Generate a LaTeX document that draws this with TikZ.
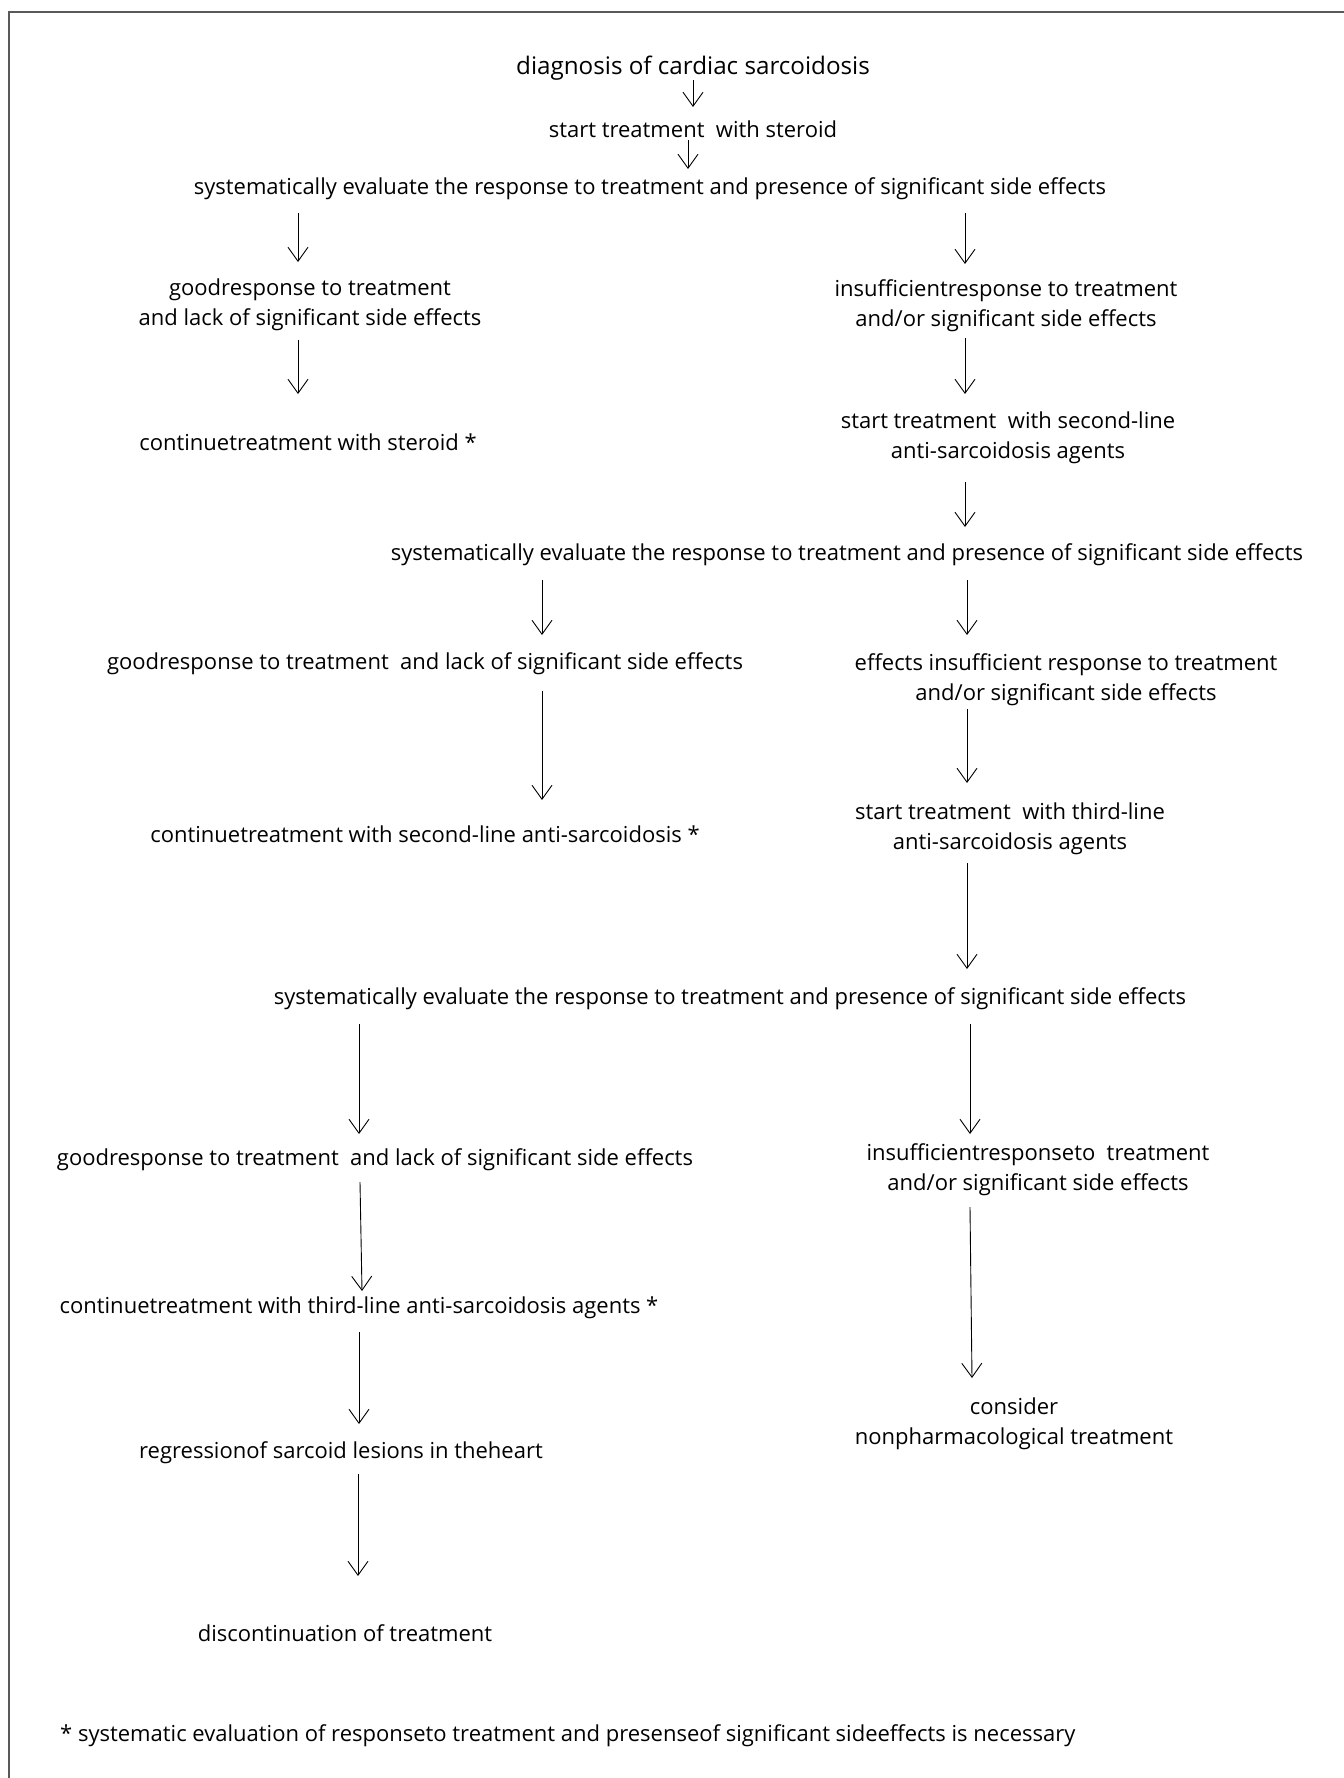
\documentclass[tikz,border=0pt]{standalone}
\usepackage{fontspec}
\setmainfont{Open Sans}
\usetikzlibrary{arrows.meta,calc}

\newcommand{\bodyfs}{\fontsize{22}{30}\selectfont}
\newcommand{\headfs}{\fontsize{24.2}{30}\selectfont}

\begin{document}
\begin{tikzpicture}[x=1pt,y=-1pt,
  txt/.style={font=\bodyfs, inner sep=0pt, align=center, yshift=-3pt},
  arr/.style={line width=0.9pt, -{Straight Barb[length=14pt,width=20pt,line width=0.9pt]}}]
\useasboundingbox (0,0) rectangle (1344,1778);
\draw[gray!70!black, line width=1.6pt] (9,1778) -- (9,12) -- (1344,12);

% top part
\node[txt, font=\headfs] (diag) at (693,65) {diagnosis of cardiac sarcoidosis};
\node[txt] (start) at (693,126) {start treatment\ \ with steroid};
\node[txt] (evalA) at (650,186) {systematically evaluate the response to treatment and presence of significant side effects};
\node[txt] (goodA) at (310,302) {goodresponse to treatment\\and lack of significant side effects};
\node[txt] (badA) at (1006,303) {insufficientresponse to treatment\\and/or significant side effects};
\node[txt] (contA) at (308,439) {continuetreatment with steroid *};
\node[txt] (secA) at (1008,435) {start treatment\ \ with second-line\\anti-sarcoidosis agents};

% second line agents
\node[txt] (evalB) at (847,552) {systematically evaluate the response to treatment and presence of significant side effects};
\node[txt] (goodB) at (425,661) {goodresponse to treatment\ \ and lack of significant side effects};
\node[txt] (badB) at (1066,677) {effects insufficient response to treatment\\and/or significant side effects};
\node[txt] (contB) at (425,831) {continuetreatment with second-line anti-sarcoidosis *};
\node[txt] (thirdA) at (1010,826) {start treatment\ \ with third-line\\anti-sarcoidosis agents};

% third line agents
\node[txt] (evalC) at (730,996) {systematically evaluate the response to treatment and presence of significant side effects};
\node[txt] (goodC) at (375,1157) {goodresponse to treatment\ \ and lack of significant side effects};
\node[txt] (badC) at (1038,1167) {insufficientresponseto\ \ treatment\\and/or significant side effects};
\node[txt] (contC) at (359,1305) {continuetreatment with third-line anti-sarcoidosis agents *};
\node[txt] (cons) at (1014,1421) {consider\\nonpharmacological treatment};
\node[txt] (regr) at (341,1450) {regressionof sarcoid lesions in theheart};
\node[txt] (disc) at (345,1630) {discontinuation of treatment};

\node[txt, anchor=west] (note) at (60,1733) {* systematic evaluation of responseto treatment and presenseof significant sideeffects is necessary};

% arrows
\draw[arr] ($(diag.center)+(0,12)$) -- ($(start.center)+(0,-22)$);
\draw[arr] ($(start.center)+(-5,11)$) -- ($(evalA.center)+(38,-20)$);
\draw[arr] ($(evalA.center)+(-352,24)$) -- ($(goodA.center)+(-12,-43)$);
\draw[arr] ($(evalA.center)+(315,24)$) -- ($(badA.center)+(-41,-42)$);
\draw[arr] ($(goodA.center)+(-12,35)$) -- ($(contA.center)+(-10,-48)$);
\draw[arr] ($(badA.center)+(-41,32)$) -- ($(secA.center)+(-43,-44)$);
\draw[arr] ($(secA.center)+(-43,44)$) -- ($(evalB.center)+(118,-28)$);
\draw[arr] ($(evalB.center)+(-305,25)$) -- ($(goodB.center)+(117,-29)$);
\draw[arr] ($(evalB.center)+(120,25)$) -- ($(badB.center)+(-99,-45)$);
\draw[arr] ($(goodB.center)+(117,27)$) -- ($(contB.center)+(117,-34)$);
\draw[arr] ($(badB.center)+(-99,29)$) -- ($(thirdA.center)+(-43,-46)$);
\draw[arr] ($(thirdA.center)+(-43,34)$) -- ($(evalC.center)+(237,-30)$);
\draw[arr] ($(evalC.center)+(-371,25)$) -- ($(goodC.center)+(-16,-26)$);
\draw[arr] ($(evalC.center)+(240,25)$) -- ($(badC.center)+(-68,-36)$);
\draw[arr] ($(goodC.center)+(-15,22)$) -- ($(contC.center)+(3,-17)$);
\draw[arr] ($(badC.center)+(-68,37)$) -- ($(cons.center)+(-42,-46)$);
\draw[arr] ($(contC.center)+(0,24)$) -- ($(regr.center)+(18,-29)$);
\draw[arr] ($(regr.center)+(17,21)$) -- ($(disc.center)+(13,-57)$);
\end{tikzpicture}
\end{document}
